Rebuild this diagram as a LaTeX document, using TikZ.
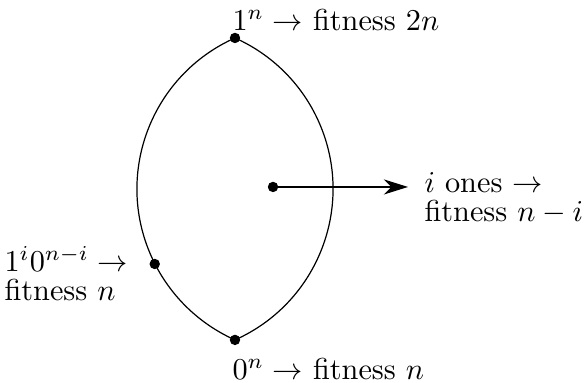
\documentclass[tikz,border=0pt]{standalone}
\usepackage{amsmath}
\usetikzlibrary{arrows.meta}

\tikzset{
  lbl/.style={inner sep=0pt, align=left, anchor=base west},
}

\begin{document}
\begin{tikzpicture}[>={Stealth[length=8pt,width=5pt,inset=2.5pt]}]
        \useasboundingbox (-2.726,-2.250) rectangle (4.095,2.192);

        % parameters
        \def\rad{1.917}   % radius of the two arcs
        \def\off{0.777}   % arc centre to the axis
        \def\half{66}     % half opening angle

        % key points
        \coordinate (O) at (0,0);
        \coordinate (T) at (0,{\rad*sin(\half)});
        \coordinate (B) at (0,{-\rad*sin(\half)});
        \coordinate (L) at ({\off+\rad*cos(207)},{\rad*sin(207)});
        \coordinate (C) at (0.441,0.023);
        \coordinate (E) at (2.007,0.023);

        % lens
        \draw (T) arc ({180-\half}:{180+\half}:\rad)
                  arc ({-\half}:{\half}:\rad);

        % points
        \foreach \p in {T,B,L,C}
          \filldraw[black] (\p) circle (1.5pt);

        % arrow
        \draw[->] (C) -- (E);

        % labels
        \node[lbl] (toplbl) at (-0.035,1.833) {$1^n \rightarrow$ fitness $2n$};
        \node[lbl] (botlbl) at (-0.035,-2.216) {$0^n \rightarrow$ fitness $n$};
        \node[lbl] (leftlbl) at (-2.680,-1.294) {$1^i0^{n-i} \rightarrow$\\[-2.3pt]fitness $n$};
        \node[lbl] (rightlbl) at (2.192,-0.377) {$i$ ones $\rightarrow$\\[-2.3pt]fitness $n-i$};
\end{tikzpicture}
\end{document}
